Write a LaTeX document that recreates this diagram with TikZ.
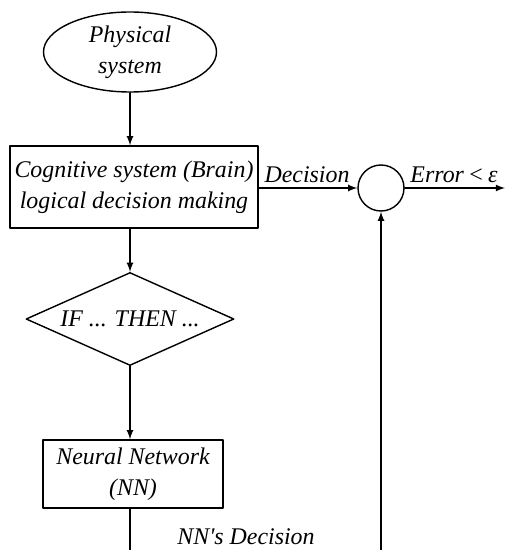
\documentclass[tikz,border=0pt]{standalone}
\usepackage{fontspec}
\setmainfont{Liberation Serif}
\usetikzlibrary{shapes.geometric}

\begin{document}
\begin{tikzpicture}[line cap=round,line join=round,x=1.0cm,y=1.0cm,>=latex,
  every node/.style={font=\itshape\fontsize{13.6}{17.5}\selectfont},
  blk/.style={draw,line width=0.8pt,rectangle,align=center,inner sep=0pt},
  lbl/.style={inner sep=1pt}]
\useasboundingbox (0,0) rectangle (10.1,-11);

\node[blk,ellipse,minimum width=3.46cm,minimum height=1.6cm] (phys) at (2.6,-1.04) {Physical\\system};
\node[blk,minimum width=4.96cm,minimum height=1.64cm] (brain) at (2.68,-3.74) {Cognitive system (Brain)\\logical decision making};
\node[blk,diamond,shape aspect=2.24,minimum width=4.16cm,minimum height=1.86cm] (rule) at (2.6,-6.38) {IF ... THEN ...};
\node[blk,minimum width=3.6cm,minimum height=1.36cm] (nn) at (2.66,-9.48) {Neural Network\\(NN)};
\node[blk,circle,minimum size=0.92cm] (sum) at (7.62,-3.76) {};

\coordinate (out) at (10.1,-3.76);
\coordinate (nnend) at (2.6,-11);
\coordinate (fbend) at (7.62,-11);

\draw[line width=0.8pt,->] (phys.south) -- (phys.south |- brain.north);
\draw[line width=0.8pt,->] (rule.north |- brain.south) -- (rule.north);
\draw[line width=0.8pt,->] (rule.south) -- (rule.south |- nn.north);
\draw[line width=0.8pt] (rule.south |- nn.south) -- (nnend);
\draw[line width=0.8pt,->] (brain.east |- sum.west) -- (sum.west);
\draw[line width=0.8pt,->] (sum.east) -- (out);
\draw[line width=0.8pt,->] (fbend) -- (sum.south);

\node[lbl] (dec) at (6.14,-3.5) {Decision};
\node[lbl] (err) at (9.08,-3.5) {Error\,<\,ε};
\node[lbl] (nndec) at (4.92,-10.74) {NN\textquotesingle s Decision};
\end{tikzpicture}
\end{document}
